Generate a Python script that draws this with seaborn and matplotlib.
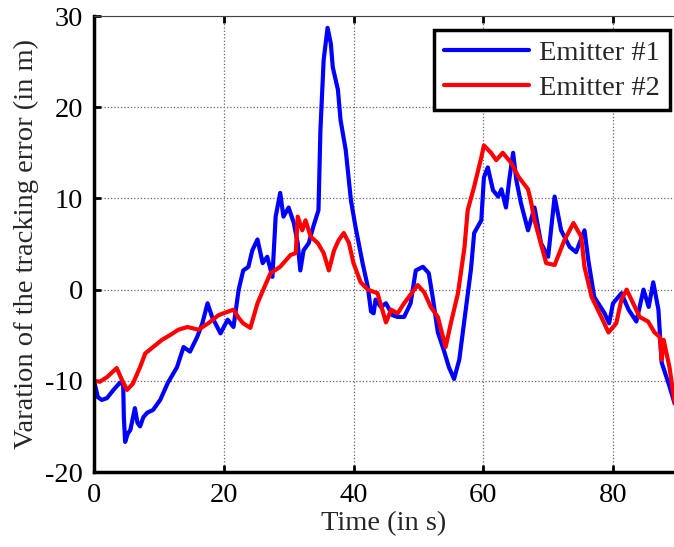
import numpy as np
import pandas as pd
import seaborn as sns
import matplotlib
matplotlib.use("Agg")
import matplotlib.pyplot as plt

# values
t_em1 = [0, 0.6, 1.2, 2, 3, 4, 4.5, 4.6, 4.8, 5.2, 5.6, 6.3, 6.7, 7.1, 7.6, 8.2, 9.1,
         10.2, 11.4, 12.8, 13.8, 14.8, 15.9, 16.7, 17.5, 18.2, 19.5, 20.6, 21.5, 22.3,
         23, 23.8, 24.4, 25.2, 26, 26.7, 27.5, 28, 28.7, 29.2, 30, 30.8, 31.4, 31.8,
         32.3, 33.1, 33.8, 34.6, 34.9, 35.4, 36, 36.5, 36.8, 37.6, 38, 38.8, 39.6,
         40.3, 41.4, 42.2, 42.7, 43.1, 43.4, 44.2, 45, 46, 46.8, 47.8, 48.8, 49.6,
         50.7, 51.6, 52.2, 53, 53.9, 54.7, 55.5, 56.3, 57.1, 58.1, 58.6, 59.7, 60.1,
         60.7, 61.5, 62.3, 62.8, 63.5, 64, 64.6, 65.1, 65.8, 66.9, 67.9, 68.9, 70,
         71, 72, 73.3, 74.3, 75.6, 76.2, 77.1, 78.7, 79.4, 80, 81.3, 82.4, 83.6,
         84.7, 85.5, 86.2, 87, 87.5, 88.7, 89.5]
v_em1 = [-10, -11.8, -12.1, -11.9, -11, -10.2, -10.4, -14, -16.7, -15.8, -15.4, -13,
         -14.6, -15, -14, -13.5, -13.2, -12.1, -10.2, -8.5, -6.3, -6.8, -5.2, -3.7,
         -1.5, -3, -4.8, -3.3, -4.1, 0, 2.1, 2.5, 4.3, 5.5, 2.9, 3.6, 1.4, 8, 10.6,
         8, 9, 7.3, 5.1, 2.1, 4.3, 5.1, 6.9, 8.7, 17.5, 25.2, 28.7, 27, 24.4, 21.9,
         18.6, 15.3, 9.8, 6.9, 2.9, 0.3, -2.4, -2.6, -1.1, -1.9, -1.5, -2.8, -3, -3,
         -1.5, 2.1, 2.5, 1.8, -0.8, -4.7, -6.6, -8.5, -9.8, -7.7, -3.3, 2.2, 6.2,
         7.6, 12.3, 13.4, 10.9, 10.2, 11, 9, 12, 15, 12, 9.5, 6.5, 9, 5.1, 3.6,
         10.2, 6.5, 4.7, 4.1, 6.5, 3.2, -0.8, -2.6, -3.7, -1.5, -0.4, -2.2, -3.5,
         0, -1.9, 0.8, -2.2, -8, -10.6, -12.5]

t_em2 = [0, 0.9, 2, 3.5, 4.3, 5.1, 6, 7.1, 7.9, 9.1, 10.5, 11.7, 13, 14.4, 16.1,
         17.6, 19.2, 20.7, 21.5, 22.3, 23, 24.1, 25.2, 26.1, 27.2, 28.7, 30.3, 31.1,
         31.4, 32.1, 32.6, 33.4, 34.5, 35.4, 36.2, 37, 37.7, 38.5, 39.3, 40, 41.1,
         42.2, 43.7, 45, 45.8, 46.8, 47.8, 49.9, 50.9, 51.9, 53, 53.8, 54.2, 55,
         56.1, 57.1, 57.6, 58.6, 59.7, 60.1, 61.2, 62, 63, 64.3, 65.4, 66.9, 67.4,
         67.9, 69.7, 71, 72.5, 73.9, 75.1, 75.6, 76.7, 78.2, 79.3, 80.5, 81.3, 82.1,
         83.1, 84.1, 85.4, 86.4, 87.2, 87.5, 87.8, 88.7, 89.5]
v_em2 = [-10, -10.1, -9.6, -8.6, -9.9, -11, -10.3, -8.5, -7, -6.3, -5.5, -5, -4.4,
         -4.1, -4.4, -3.7, -2.8, -2.4, -2.2, -3.1, -3.7, -4.2, -1.5, 0, 1.8, 2.5,
         3.8, 4, 8, 6.5, 7.6, 5.8, 5.1, 4, 2.1, 4.3, 5.4, 6.2, 5.1, 2.9, 0.8, 0,
         -0.4, -3.6, -2.2, -2.6, -1.5, 0.5, -0.3, -1.9, -3, -5.2, -6.3, -3.7, -0.4,
         4.6, 8.7, 11.3, 14.5, 15.8, 15, 14.2, 15, 13.9, 12.4, 11, 9.5, 7.6, 2.9,
         2.7, 5.4, 7.3, 5.8, 2.5, -0.8, -3, -4.7, -3.7, -1.1, 0, -1.5, -3, -3.5,
         -4.7, -5.2, -7.7, -5.5, -8.5, -12.4]

x_ticks = [0, 20, 40, 60, 80]
y_ticks = [-20, -10, 0, 10, 20, 30]

sns.set_style("white")
plt.rcParams["font.family"] = ["Liberation Serif", "DejaVu Serif"]
plt.rcParams["axes.unicode_minus"] = False

fs = 20.5

fig = plt.figure(figsize=(6.74, 5.47), dpi=100)
ax = fig.add_axes([94 / 674, 75 / 547, 580 / 674, 456 / 547])

sns.lineplot(x=t_em1, y=v_em1, color="blue", lw=3.0, sort=False, estimator=None,
             label="Emitter #1", ax=ax)
sns.lineplot(x=t_em2, y=v_em2, color="red", lw=3.0, sort=False, estimator=None,
             label="Emitter #2", ax=ax)

ax.set_xlim(0, 89.4)
ax.set_ylim(-20, 30)
ax.set_xticks(x_ticks)
ax.set_yticks(y_ticks)
ax.grid(True, linestyle=":", color="#666666", lw=0.9)

for s in ["left", "bottom"]:
    ax.spines[s].set_linewidth(2.5)
    ax.spines[s].set_color("black")
ax.spines["top"].set_linewidth(0.8)
ax.spines["top"].set_color("#444444")
ax.spines["right"].set_visible(False)
ax.tick_params(direction="in", length=5, width=2, labelsize=fs, pad=8,
               top=True, bottom=True, left=True, colors="black")

ax.set_xlabel("Time (in s)", fontsize=fs, labelpad=2)
ax.set_ylabel("Varation of the tracking error (in m)", fontsize=fs, labelpad=4)

leg = ax.legend(loc="upper right", bbox_to_anchor=(0.993, 0.969), borderaxespad=0,
                fontsize=fs, fancybox=False, framealpha=1, edgecolor="black",
                handlelength=3.0, handletextpad=0.35, labelspacing=0.3,
                borderpad=0.35)
leg.get_frame().set_linewidth(2.5)

fig.savefig("out.png", dpi=100)
